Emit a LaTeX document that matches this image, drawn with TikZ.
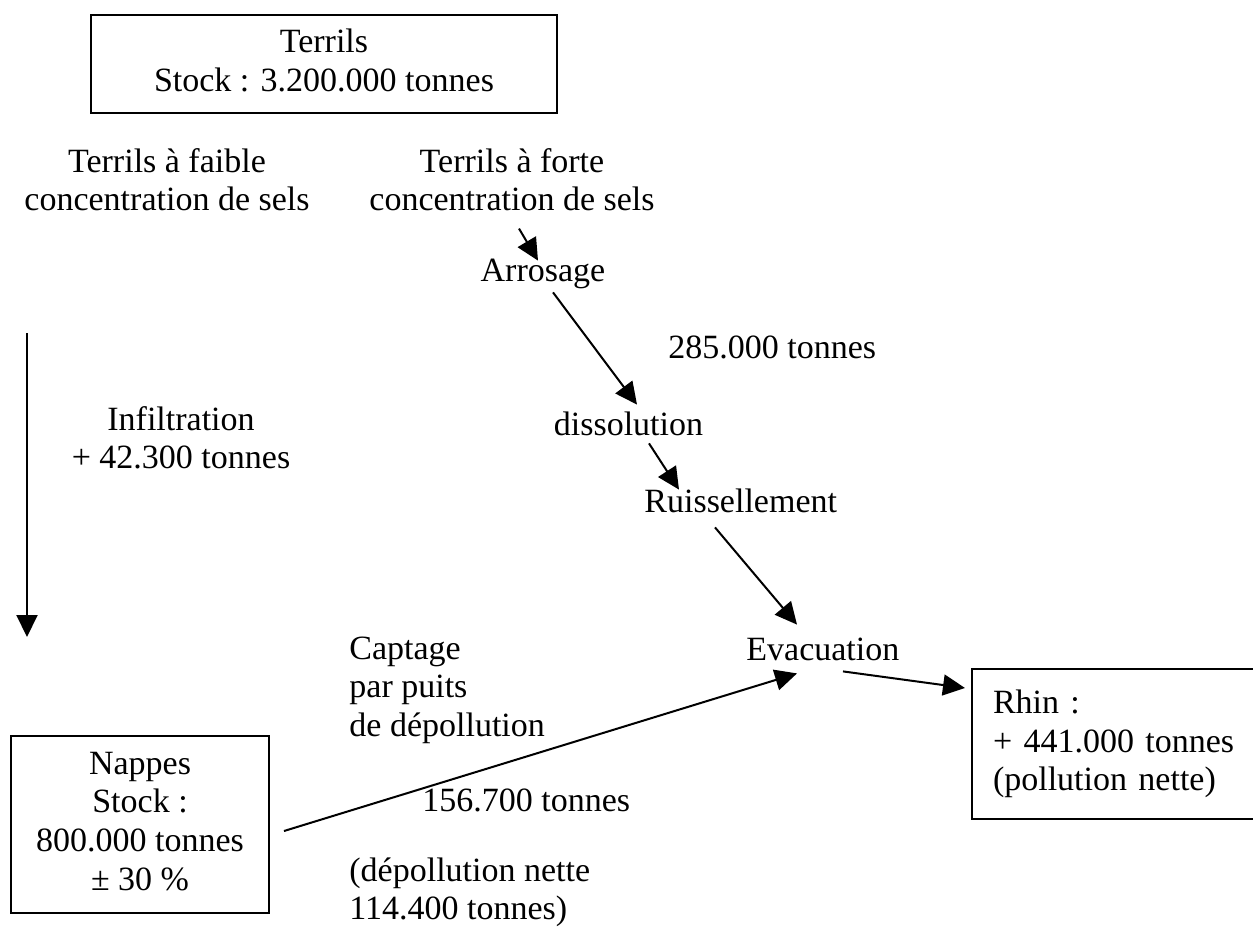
\documentclass[tikz,border=0pt]{standalone}
\usepackage{fontspec}
\setmainfont{Liberation Serif}
\usetikzlibrary{arrows.meta,calc}
\newcommand\mlines[2]{\begin{tabular}[t]{@{}#1@{}}#2\end{tabular}}
\begin{document}
\begin{tikzpicture}[x=0.5pt,y=-0.5pt,
  every node/.style={font=\fontsize{17}{19.3}\selectfont, inner sep=0pt},
  box/.style={draw, line width=1pt},
  lbl/.style={text height=12pt, text depth=4pt},
  arr/.style={line width=1pt, -{Triangle[length=11pt,width=10.5pt]}}]
\useasboundingbox (0,0) rectangle (1253,932);

\node[box, minimum width=233pt, minimum height=49pt] (terrils) at (324,64) {\mlines{c}{Terrils\\Stock : 3.200.000 tonnes}};
\node[anchor=base] (faible) at (167,172) {\mlines{c}{Terrils à faible\\concentration de sels}};
\node[anchor=base] (forte) at (512,172) {\mlines{c}{Terrils à forte\\concentration de sels}};
\node[lbl, anchor=base] (arrosage) at (543,281) {Arrosage};
\node[anchor=base west] (t285) at (668,358) {285.000 tonnes};
\node[lbl, anchor=base] (dissolution) at (628.5,435) {dissolution};
\node[lbl, anchor=base west] (ruis) at (644,512) {Ruissellement};
\node[lbl, anchor=base west] (evac) at (746,660) {Evacuation};
\node[anchor=base] (infil) at (181,430) {\mlines{c}{Infiltration\\+ 42.300 tonnes}};
\node[anchor=base west] (captage) at (349,659) {\mlines{l}{Captage\\par puits\\de dépollution}};
\node[anchor=base west] (t156) at (422,811) {156.700 tonnes};
\node[anchor=base west] (nette) at (349,881) {\mlines{l}{(dépollution nette\\114.400 tonnes)}};
\node[box, minimum width=129pt, minimum height=88.5pt] (nappes) at (140,824.5) {\mlines{c}{Nappes\\Stock :\\800.000 tonnes\\± 30 \%}};
\node[box, anchor=north west, inner xsep=10.5pt, text width=170pt, align=left, minimum height=75pt] (rhin) at (971,668) {Rhin :\\+ 441.000 tonnes\\(pollution nette)};

\draw[arr] ($(forte.south)+(7,6)$) -- ($(arrosage.north)+(-5,4)$);
\draw[arr] ($(arrosage.south)+(10,3)$) -- ($(dissolution.north)+(8.5,-6)$);
\draw[arr] ($(dissolution.south)+(20.5,0)$) -- ($(ruis.north west)+(35,2)$);
\draw[arr] ($(ruis.south west)+(71,7)$) -- ($(evac.north west)+(51,-11)$);
\draw[arr] ($(nappes.east)+(14,6.5)$) -- ($(evac.south west)+(51,5)$);
\draw[arr] ($(evac.south west)+(97,3)$) -- ($(rhin.north west)+(-6,20)$);
\coordinate (infTop) at (27,333);
\coordinate (infBot) at (27,637);
\draw[arr] (infTop) -- (infBot);
\end{tikzpicture}
\end{document}
